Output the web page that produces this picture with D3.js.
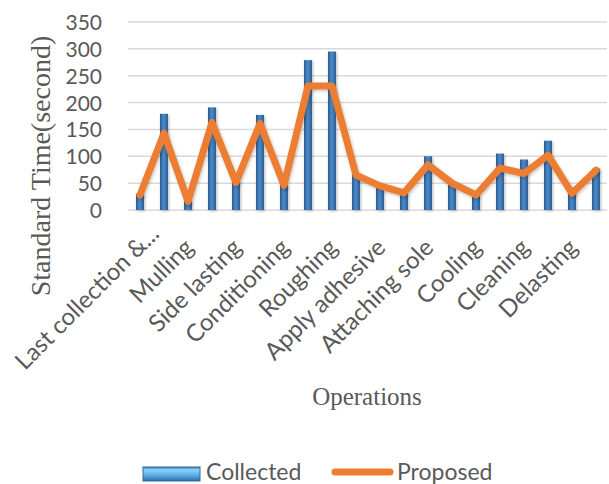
<!DOCTYPE html>
<html>
<head>
<meta charset="utf-8">
<script src="https://cdn.jsdelivr.net/npm/d3@7"></script>
<style>
  html, body { margin: 0; padding: 0; background: #fff; }
  svg { display: block; }
</style>
</head>
<body>
<svg id="chart" width="609" height="484"></svg>
<script>
// Shoe lasting line operations (every second label is shown on the axis)
const categories = [
  "Last collection & insole attaching", "Insole attaching", "Mulling", "Toe lasting",
  "Side lasting", "Heel lasting", "Conditioning", "Heat setting",
  "Roughing", "Priming", "Apply adhesive", "Reactivation",
  "Attaching sole", "Sole pressing", "Cooling", "Trimming",
  "Cleaning", "Inspection", "Delasting", "Packing"
];
// Standard time per operation, seconds
const collected = [30, 179, 17, 191, 55, 177, 47, 279, 295, 68, 45, 32, 100, 50, 28, 105, 94, 129, 35, 77];
const proposed  = [28, 143, 16, 163, 51, 161, 46, 231, 231, 65, 45, 32, 84, 50, 28, 78, 68, 102, 31, 74];
const yTicks = [0, 50, 100, 150, 200, 250, 300, 350];
const seriesNames = ["Collected", "Proposed"];

const textGray = "#595959";
const orange = "#ED7D31";

const svg = d3.select("#chart");
const defs = svg.append("defs");

// Bar fill: dark blue edges, brighter core
const barGrad = defs.append("linearGradient").attr("id", "barGrad")
  .attr("x1", "0%").attr("x2", "100%").attr("y1", "0%").attr("y2", "0%");
barGrad.append("stop").attr("offset", "0%").attr("stop-color", "#2A5A8C");
barGrad.append("stop").attr("offset", "45%").attr("stop-color", "#4C8ACB");
barGrad.append("stop").attr("offset", "100%").attr("stop-color", "#2C5D90");

// Legend swatch: bevelled light blue
const swGrad = defs.append("linearGradient").attr("id", "swGrad")
  .attr("x1", "0%").attr("x2", "0%").attr("y1", "0%").attr("y2", "100%");
swGrad.append("stop").attr("offset", "0%").attr("stop-color", "#3B7BBF");
swGrad.append("stop").attr("offset", "20%").attr("stop-color", "#8FD2F5");
swGrad.append("stop").attr("offset", "60%").attr("stop-color", "#56AEE6");
swGrad.append("stop").attr("offset", "100%").attr("stop-color", "#2E6AA8");

const shadow = defs.append("filter").attr("id", "soft")
  .attr("x", "-50%").attr("y", "-10%").attr("width", "200%").attr("height", "130%");
shadow.append("feDropShadow").attr("dx", 1).attr("dy", 1)
  .attr("stdDeviation", 1.6).attr("flood-color", "#000").attr("flood-opacity", 0.28);

const lineShadow = defs.append("filter").attr("id", "lineSoft")
  .attr("x", "-5%").attr("y", "-10%").attr("width", "110%").attr("height", "130%");
lineShadow.append("feDropShadow").attr("dx", 1).attr("dy", 1.5)
  .attr("stdDeviation", 1.5).attr("flood-color", "#000").attr("flood-opacity", 0.25);

const plot = { left: 128, right: 608, top: 22, bottom: 210 };

const x = d3.scaleBand()
  .domain(categories)
  .range([plot.left, plot.right])
  .paddingInner(0).paddingOuter(0);

const y = d3.scaleLinear()
  .domain([0, 350])
  .range([plot.bottom, plot.top]);

// Gridlines
svg.append("g")
  .selectAll("line")
  .data(yTicks)
  .join("line")
  .attr("x1", plot.left).attr("x2", plot.right - 1)
  .attr("y1", d => y(d)).attr("y2", d => y(d))
  .attr("stroke", "#D9D9D9").attr("stroke-width", 1.5);

// Y axis labels
const yAxis = d3.axisLeft(y).tickValues(yTicks).tickSize(0).tickPadding(0);
const yG = svg.append("g")
  .attr("transform", `translate(102,0)`)
  .call(yAxis);
yG.select(".domain").remove();
yG.selectAll("text")
  .attr("font-family", "Lato, sans-serif")
  .attr("font-size", 21)
  .attr("fill", textGray)
  .attr("dy", "0.36em");

// Bars
const barW = 8;
svg.append("g")
  .selectAll("rect")
  .data(categories.map((c, i) => ({ c, v: collected[i] })))
  .join("rect")
  .attr("x", d => x(d.c) + x.bandwidth() / 2 - barW / 2)
  .attr("y", d => y(d.v))
  .attr("width", barW)
  .attr("height", d => y(0) - y(d.v))
  .attr("fill", "url(#barGrad)")
  .attr("filter", "url(#soft)");

// Proposed line
const line = d3.line()
  .x((d, i) => x(categories[i]) + x.bandwidth() / 2)
  .y(d => y(d));
svg.append("path")
  .datum(proposed)
  .attr("d", line)
  .attr("fill", "none")
  .attr("stroke", orange)
  .attr("stroke-width", 7)
  .attr("stroke-linejoin", "round")
  .attr("stroke-linecap", "round")
  .attr("filter", "url(#lineSoft)");

// X labels, every second category, rotated; long names are cut with an ellipsis
const maxChars = 18;
const shorten = s => s.length > maxChars ? s.slice(0, maxChars - 1).trimEnd() + "..." : s;
svg.append("g")
  .selectAll("text")
  .data(categories.filter((c, i) => i % 2 === 0))
  .join("text")
  .attr("transform", d => `translate(${x(d) + x.bandwidth() / 2 + 1},243) rotate(-45)`)
  .attr("text-anchor", "end")
  .attr("dx", d => d.length > maxChars ? "0.8em" : 0)
  .attr("dy", "0.35em")
  .attr("font-family", "Lato, sans-serif")
  .attr("font-size", 24)
  .attr("fill", textGray)
  .text(d => shorten(d));

// Axis titles
svg.append("text")
  .attr("transform", "translate(50,166) rotate(-90)")
  .attr("text-anchor", "middle")
  .attr("font-family", "'Liberation Serif', 'Times New Roman', serif")
  .attr("font-size", 28)
  .attr("fill", textGray)
  .text("Standard Time(second)");

svg.append("text")
  .attr("x", 367).attr("y", 405)
  .attr("text-anchor", "middle")
  .attr("font-family", "'Liberation Serif', 'Times New Roman', serif")
  .attr("font-size", 25)
  .attr("fill", textGray)
  .text("Operations");

// Legend
const legend = svg.append("g").attr("font-family", "Lato, sans-serif").attr("font-size", 23).attr("fill", textGray);
legend.append("rect")
  .attr("x", 143).attr("y", 467).attr("width", 57).attr("height", 14)
  .attr("fill", "url(#swGrad)").attr("stroke", "#2F69A6").attr("stroke-width", 1);
legend.append("text").attr("x", 206).attr("y", 480).text(seriesNames[0]);
legend.append("line")
  .attr("x1", 335).attr("x2", 390).attr("y1", 472).attr("y2", 472)
  .attr("stroke", orange).attr("stroke-width", 7).attr("stroke-linecap", "round");
legend.append("text").attr("x", 397).attr("y", 480).text(seriesNames[1]);
</script>
</body>
</html>
